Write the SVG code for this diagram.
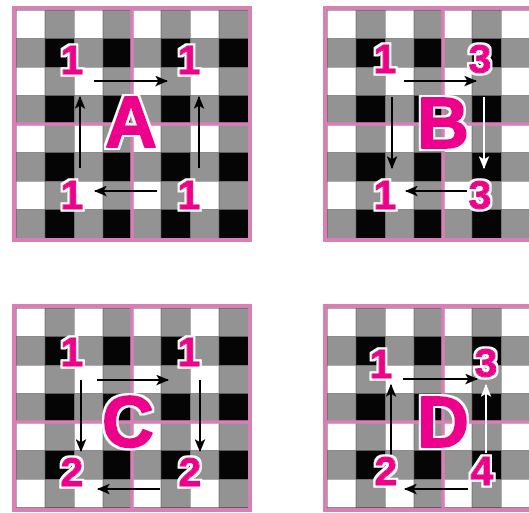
<svg xmlns="http://www.w3.org/2000/svg" width="529" height="513" viewBox="0 0 529 513">
<style>
.frame{fill:none;stroke:#D880B6;stroke-width:4}
.mid{stroke:#D880B6;stroke-width:3.5;fill:none}
.num{font-family:"Liberation Sans",Arial,sans-serif;font-weight:bold;font-size:41px;fill:#EC008C;stroke:#EC008C;stroke-width:1.3;stroke-linejoin:round;text-anchor:middle;filter:url(#outline)}
.big{font-family:"Liberation Sans",Arial,sans-serif;font-weight:bold;font-size:72px;fill:#EC008C;stroke:#EC008C;stroke-width:2;stroke-linejoin:round;text-anchor:middle;filter:url(#outline2)}
.ab{stroke:#000;stroke-width:2;fill:none;marker-end:url(#hb)}
.aw{stroke:#fff;stroke-width:2;fill:none;marker-end:url(#hw)}
</style>
<defs>
<pattern id="ging" patternUnits="userSpaceOnUse" x="0" y="0" width="58" height="57">
<rect x="0" y="0" width="29" height="28.5" fill="#fff"/>
<rect x="29" y="0" width="29" height="28.5" fill="#939393"/>
<rect x="0" y="28.5" width="29" height="28.5" fill="#939393"/>
<rect x="29" y="28.5" width="29" height="28.5" fill="#050505"/>
<path d="M0,0.4H58M0,28.5H58M0.4,0V57M29,0V57" stroke="#555" stroke-width="0.9" stroke-opacity="0.6"/>
</pattern>
<filter id="outline" x="-20%" y="-20%" width="140%" height="140%">
<feMorphology in="SourceAlpha" operator="dilate" radius="1.6" result="d"/>
<feFlood flood-color="#fff"/>
<feComposite in2="d" operator="in" result="w"/>
<feMerge><feMergeNode in="w"/><feMergeNode in="SourceGraphic"/></feMerge>
</filter>
<filter id="outline2" x="-20%" y="-20%" width="140%" height="140%">
<feMorphology in="SourceAlpha" operator="dilate" radius="2" result="d"/>
<feFlood flood-color="#fff"/>
<feComposite in2="d" operator="in" result="w"/>
<feMerge><feMergeNode in="w"/><feMergeNode in="SourceGraphic"/></feMerge>
</filter>
<marker id="hb" viewBox="0 0 12 10" refX="11" refY="5" markerWidth="13" markerHeight="11" markerUnits="userSpaceOnUse" orient="auto">
<path d="M0,0L12,5L0,10L3,5z" fill="#000"/>
</marker>
<marker id="hw" viewBox="0 0 12 10" refX="11" refY="5" markerWidth="13" markerHeight="11" markerUnits="userSpaceOnUse" orient="auto">
<path d="M0,0L12,5L0,10L3,5z" fill="#fff"/>
</marker>
</defs>
<rect width="529" height="513" fill="#fff"/>

<!-- Panel A -->
<g id="panelA">
<g transform="translate(16,10)"><rect width="232" height="228" fill="url(#ging)"/></g>
<path class="mid" d="M132,10V238M16,124H248"/>
<rect class="frame" x="14" y="8" width="236" height="232"/>
</g>
<g id="connectorsA">
<line class="ab" x1="94" y1="81" x2="167" y2="81"/>
<line class="ab" x1="157" y1="191" x2="95" y2="191"/>
<line class="ab" x1="80" y1="168" x2="80" y2="97"/>
<line class="ab" x1="199" y1="168" x2="199" y2="97"/>
</g>
<g id="A-label"><text class="big" x="131" y="147">A</text></g>
<g id="A-n1"><text class="num" x="72" y="74">1</text></g>
<g id="A-n2"><text class="num" x="189" y="74">1</text></g>
<g id="A-n3"><text class="num" x="72" y="209">1</text></g>
<g id="A-n4"><text class="num" x="189" y="209">1</text></g>

<!-- Panel B -->
<g id="panelB">
<g transform="translate(327,10)"><rect width="232" height="228" fill="url(#ging)"/></g>
<path class="mid" d="M443,10V238M327,124H559"/>
<rect class="frame" x="325" y="8" width="236" height="232"/>
</g>
<g id="connectorsB">
<line class="ab" x1="404" y1="81" x2="476" y2="81"/>
<line class="ab" x1="467" y1="191" x2="406" y2="191"/>
<line class="ab" x1="392" y1="97" x2="392" y2="168"/>
<line class="aw" x1="484" y1="97" x2="484" y2="168"/>
</g>
<g id="B-label"><text class="big" x="443" y="148">B</text></g>
<g id="B-n1"><text class="num" x="385" y="73">1</text></g>
<g id="B-n2"><text class="num" x="480" y="73">3</text></g>
<g id="B-n3"><text class="num" x="385" y="209">1</text></g>
<g id="B-n4"><text class="num" x="480" y="209">3</text></g>

<!-- Panel C -->
<g id="panelC">
<g transform="translate(16,308)"><rect width="232" height="200" fill="url(#ging)"/></g>
<path class="mid" d="M132,308V508M16,422H248"/>
<rect class="frame" x="14" y="306" width="236" height="204"/>
</g>
<g id="connectorsC">
<line class="ab" x1="97" y1="380" x2="168" y2="380"/>
<line class="ab" x1="160" y1="489" x2="98" y2="489"/>
<line class="ab" x1="81" y1="380" x2="81" y2="451"/>
<line class="ab" x1="200" y1="380" x2="200" y2="451"/>
</g>
<g id="C-label"><text class="big" x="128" y="447">C</text></g>
<g id="C-n1"><text class="num" x="72" y="366">1</text></g>
<g id="C-n2"><text class="num" x="189" y="366">1</text></g>
<g id="C-n3"><text class="num" x="72" y="486">2</text></g>
<g id="C-n4"><text class="num" x="190" y="486">2</text></g>

<!-- Panel D -->
<g id="panelD">
<g transform="translate(327,308)"><rect width="232" height="200" fill="url(#ging)"/></g>
<path class="mid" d="M443,308V508M327,422H559"/>
<rect class="frame" x="325" y="306" width="236" height="204"/>
</g>
<g id="connectorsD">
<line class="ab" x1="403" y1="379" x2="477" y2="379"/>
<line class="ab" x1="468" y1="489" x2="405" y2="489"/>
<line class="ab" x1="391" y1="457" x2="391" y2="385"/>
<line class="aw" x1="486" y1="453" x2="486" y2="385"/>
</g>
<g id="D-label"><text class="big" x="443" y="447">D</text></g>
<g id="D-n1"><text class="num" x="381" y="378">1</text></g>
<g id="D-n2"><text class="num" x="486" y="377">3</text></g>
<g id="D-n3"><text class="num" x="386" y="485">2</text></g>
<g id="D-n4"><text class="num" x="482" y="485">4</text></g>
</svg>
